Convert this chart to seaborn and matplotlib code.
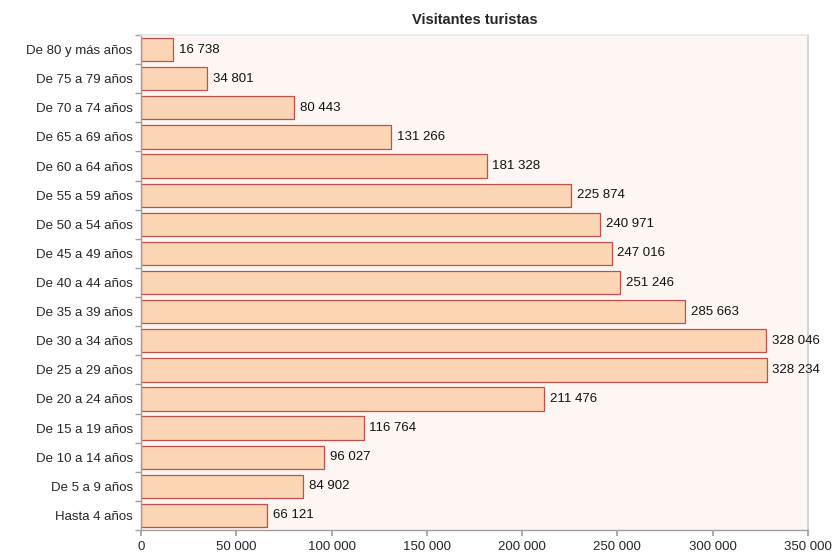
import numpy as np
import pandas as pd
import matplotlib
matplotlib.use("Agg")
import matplotlib.pyplot as plt
import seaborn as sns

# data
age_groups = [
    "De 80 y más años", "De 75 a 79 años", "De 70 a 74 años", "De 65 a 69 años",
    "De 60 a 64 años", "De 55 a 59 años", "De 50 a 54 años", "De 45 a 49 años",
    "De 40 a 44 años", "De 35 a 39 años", "De 30 a 34 años", "De 25 a 29 años",
    "De 20 a 24 años", "De 15 a 19 años", "De 10 a 14 años", "De 5 a 9 años",
    "Hasta 4 años",
]
visitors = [
    16738, 34801, 80443, 131266, 181328, 225874, 240971, 247016,
    251246, 285663, 328046, 328234, 211476, 116764, 96027, 84902, 66121,
]
x_ticks = [0, 50000, 100000, 150000, 200000, 250000, 300000, 350000]

df = pd.DataFrame({"grupo": age_groups, "visitantes": visitors})


def fmt(v):
    return f"{v:,.0f}".replace(",", " ")


sns.set_theme(style="white")
plt.rcParams["font.family"] = ["Liberation Sans", "DejaVu Sans"]

fig = plt.figure(figsize=(8.38, 5.53), dpi=100)
ax = fig.add_axes([141 / 838, 1 - 530 / 553, 667 / 838, 495 / 553])
ax.set_facecolor("#fdf6f2")

sns.barplot(data=df, y="grupo", x="visitantes", orient="h", ax=ax,
            color="#fcd5b4", saturation=1, width=0.8,
            edgecolor="#c0504d", linewidth=0.9)

for i, v in enumerate(visitors):
    ax.text(v + 3000, i, fmt(v), va="center", ha="left", fontsize=9.5, color="#111111")

ax.set_xlim(0, 350000)
ax.set_ylim(len(age_groups) - 0.5, -0.5)
ax.set_xticks(x_ticks)
ax.set_xticklabels([fmt(t) for t in x_ticks], fontsize=9.5)
ax.set_yticks(np.arange(len(age_groups)))
ax.set_yticklabels(age_groups, fontsize=9.5)
ax.tick_params(axis="y", length=0, pad=6)
ax.tick_params(axis="x", length=4, color="#a0a0a0", direction="out", pad=4, bottom=True)
# minor ticks at category boundaries on the y axis
ax.set_yticks(np.arange(len(age_groups) + 1) - 0.5, minor=True)
ax.tick_params(axis="y", which="minor", length=4, color="#a0a0a0", left=True)

ax.set_xlabel("")
ax.set_ylabel("")
ax.set_title("Visitantes turistas", fontsize=10.5, fontweight="bold", pad=8)

for side in ["left", "bottom"]:
    ax.spines[side].set_color("#a0a0a0")
    ax.spines[side].set_linewidth(1)
ax.spines["right"].set_color("#d0d0d0")
ax.spines["top"].set_color("#e8e8e8")

fig.savefig("out.png", dpi=100)
